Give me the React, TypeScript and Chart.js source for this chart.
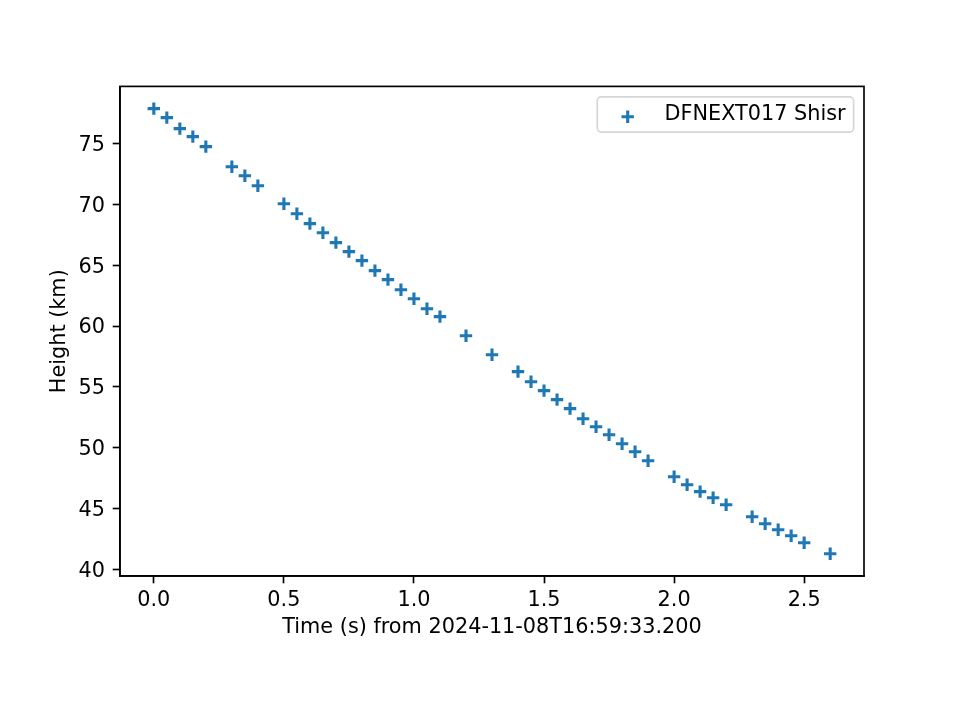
import React, { useEffect, useRef } from "react";
import { Chart, registerables } from "chart.js";

Chart.register(...registerables);

const seriesLabel = "DFNEXT017 Shisr";
const xTitle = "Time (s) from 2024-11-08T16:59:33.200";
const yTitle = "Height (km)";

const times = [
  0, 0.05, 0.1, 0.15, 0.2, 0.3, 0.35, 0.4, 0.5, 0.55, 0.6, 0.65, 0.7, 0.75,
  0.8, 0.85, 0.9, 0.95, 1.0, 1.05, 1.1, 1.2, 1.3, 1.4, 1.45, 1.5, 1.55, 1.6,
  1.65, 1.7, 1.75, 1.8, 1.85, 1.9, 2.0, 2.05, 2.1, 2.15, 2.2, 2.3, 2.35, 2.4,
  2.45, 2.5, 2.6,
];
const heights = [
  77.86, 77.12, 76.22, 75.56, 74.74, 73.09, 72.35, 71.53, 70.05, 69.23, 68.41,
  67.67, 66.85, 66.11, 65.37, 64.55, 63.81, 62.98, 62.24, 61.42, 60.77, 59.2,
  57.64, 56.25, 55.42, 54.69, 53.95, 53.21, 52.38, 51.73, 51.07, 50.33, 49.67,
  48.93, 47.62, 46.96, 46.39, 45.89, 45.32, 44.33, 43.76, 43.26, 42.77, 42.19,
  41.29,
];

const xTicks = [0, 0.5, 1.0, 1.5, 2.0, 2.5];
const xTickLabels = ["0.0", "0.5", "1.0", "1.5", "2.0", "2.5"];
const yTicks = [40, 45, 50, 55, 60, 65, 70, 75];
const yTickLabels = ["40", "45", "50", "55", "60", "65", "70", "75"];

const FONT = "DejaVu Sans";
const FS = 20.8;
const BLUE = "#1f77b4";
const LW = 1.67;

function padRange(vals: number[]) {
  const lo = Math.min(...vals);
  const hi = Math.max(...vals);
  const m = (hi - lo) * 0.05;
  return [lo - m, hi + m];
}

const framePlugin = {
  id: "frameAndLegend",
  afterDatasetsDraw(chart: any) {
    const { ctx, chartArea: a } = chart;
    ctx.save();
    // frame
    ctx.strokeStyle = "#000";
    ctx.lineWidth = LW;
    ctx.strokeRect(a.left, a.top, a.right - a.left, a.bottom - a.top);
    // legend box
    const bw = 256.3;
    const bh = 35.3;
    const bx = a.right - 10.4 - bw;
    const by = a.top + 10.4;
    ctx.beginPath();
    (ctx as any).roundRect(bx, by, bw, bh, 4);
    ctx.fillStyle = "rgba(255,255,255,0.8)";
    ctx.fill();
    ctx.strokeStyle = "#d6d6d6";
    ctx.lineWidth = LW;
    ctx.stroke();
    // legend marker
    const mx = bx + 30.4;
    const my = by + 20;
    const r = 6.2;
    ctx.strokeStyle = BLUE;
    ctx.lineWidth = 3.1;
    ctx.beginPath();
    ctx.moveTo(mx - r, my);
    ctx.lineTo(mx + r, my);
    ctx.moveTo(mx, my - r);
    ctx.lineTo(mx, my + r);
    ctx.stroke();
    // legend text
    ctx.fillStyle = "#000";
    ctx.font = `${FS}px "${FONT}"`;
    ctx.textAlign = "left";
    ctx.textBaseline = "alphabetic";
    ctx.fillText(seriesLabel, bx + 67.2, by + 23.3);
    ctx.restore();
  },
};

export default function App() {
  const ref = useRef<HTMLCanvasElement | null>(null);

  useEffect(() => {
    if (!ref.current) return;
    const [xMin, xMax] = padRange(times);
    const [yMin, yMax] = padRange(heights);
    const points = times.map((t, i) => ({ x: t, y: heights[i] }));

    const chart = new Chart(ref.current, {
      type: "scatter",
      data: {
        datasets: [
          {
            label: seriesLabel,
            data: points,
            pointStyle: "cross",
            pointRadius: 6.2,
            pointHoverRadius: 6.2,
            pointBorderWidth: 3.1,
            pointHoverBorderWidth: 3.1,
            borderColor: BLUE,
            backgroundColor: BLUE,
            showLine: false,
          },
        ],
      },
      options: {
        animation: false,
        responsive: false,
        devicePixelRatio: 1,
        events: [],
        layout: { padding: { left: 0, top: 86.4, right: 96, bottom: 0 } },
        plugins: {
          legend: { display: false },
          tooltip: { enabled: false },
        },
        scales: {
          x: {
            type: "linear",
            position: "bottom",
            min: xMin,
            max: xMax,
            grid: {
              drawOnChartArea: false,
              drawTicks: true,
              tickLength: 7.3,
              tickWidth: LW,
              tickColor: "#000",
            },
            border: { display: true, color: "#000", width: LW },
            ticks: {
              color: "#000",
              font: { family: FONT, size: FS },
              padding: 5,
              autoSkip: false,
              maxRotation: 0,
              callback: (v: any) => {
                const i = xTicks.findIndex((t) => Math.abs(t - v) < 1e-9);
                return i >= 0 ? xTickLabels[i] : "";
              },
            },
            afterBuildTicks: (s: any) => {
              s.ticks = xTicks.map((v) => ({ value: v }));
            },
            afterFit: (s: any) => {
              s.height = 144;
            },
            title: {
              display: true,
              text: xTitle,
              color: "#000",
              font: { family: FONT, size: FS },
              padding: { top: 0, bottom: 79.5 },
            },
          },
          y: {
            type: "linear",
            position: "left",
            min: yMin,
            max: yMax,
            grid: {
              drawOnChartArea: false,
              drawTicks: true,
              tickLength: 7.3,
              tickWidth: LW,
              tickColor: "#000",
            },
            border: { display: true, color: "#000", width: LW },
            ticks: {
              color: "#000",
              font: { family: FONT, size: FS },
              padding: 7.7,
              labelOffset: 2,
              autoSkip: false,
              callback: (v: any) => {
                const i = yTicks.findIndex((t) => Math.abs(t - v) < 1e-9);
                return i >= 0 ? yTickLabels[i] : "";
              },
            },
            afterBuildTicks: (s: any) => {
              s.ticks = yTicks.map((v) => ({ value: v }));
            },
            afterFit: (s: any) => {
              s.width = 120;
            },
            title: {
              display: true,
              text: yTitle,
              color: "#000",
              font: { family: FONT, size: FS },
              padding: { top: 47, bottom: 0 },
            },
          },
        },
      },
      plugins: [framePlugin],
    });
    return () => chart.destroy();
  }, []);

  return (
    <div style={{ position: "absolute", left: 0, top: 0, width: 960, height: 720, background: "#fff" }}>
      <canvas ref={ref} width={960} height={720} style={{ width: 960, height: 720 }} />
    </div>
  );
}
